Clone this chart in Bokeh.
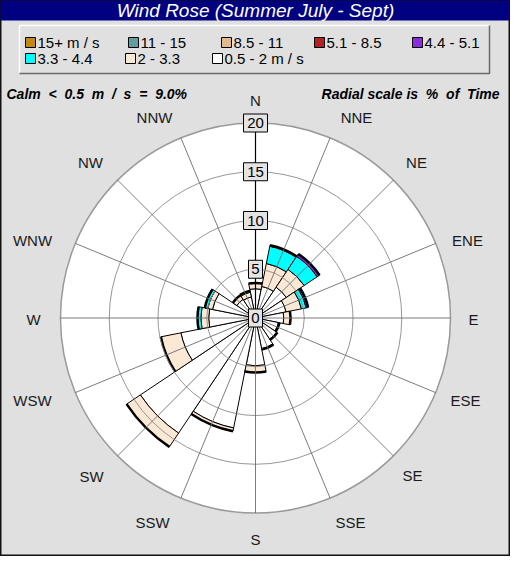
import math
from bokeh.plotting import figure
from bokeh.models import Range1d, ColumnDataSource
from bokeh.core.properties import value
from bokeh.embed import file_html
from bokeh.resources import INLINE

# ---------------- data ----------------
directions = ["N", "NNE", "NE", "ENE", "E", "ESE", "SE", "SSE",
              "S", "SSW", "SW", "WSW", "W", "WNW", "NW", "NNW"]
bearings = [0.0, 22.5, 45.0, 67.5, 90.0, 112.5, 135.0, 157.5,
            180.0, 202.5, 225.0, 247.5, 270.0, 292.5, 315.0, 337.5]

# speed classes, listed as in the legend
class_labels = ["15+ m / s", "11 - 15", "8.5 - 11", "5.1 - 8.5",
                "4.4 - 5.1", "3.3 - 4.4", "2 - 3.3", "0.5 - 2 m / s"]
class_colors = ["#c08a10", "#5f9ea0", "#e2b98a", "#b22222",
                "#8a2be2", "#00ffff", "#fbe9d5", "#ffffff"]

# % of time per direction for each class (N .. NNW)
spd_05_2 = [3.0, 3.3, 3.8, 3.2, 2.9, 2.4, 2.6, 3.2, 4.9, 11.5, 14.2, 7.8, 4.8, 4.5, 2.3, 2.2]
spd_2_33 = [0.6, 2.4, 2.2, 1.6, 0.7, 0.1, 0.1, 0.1, 0.7, 0.35, 1.7, 2.1, 0.8, 0.5, 0.5, 0.5]
spd_33_44 = [0.0, 1.8, 1.6, 0.5, 0.0, 0.0, 0.0, 0.0, 0.0, 0.0, 0.0, 0.0, 0.35, 0.3, 0.0, 0.15]
spd_44_51 = [0.0, 0.1, 0.3, 0.2, 0.0, 0.0, 0.0, 0.0, 0.0, 0.0, 0.0, 0.0, 0.0, 0.0, 0.0, 0.0]
spd_51_85 = [0.0] * 16
spd_85_11 = [0.0] * 16
spd_11_15 = [0.0] * 16
spd_15p = [0.0] * 16

# stacking order from centre outwards
stack = [spd_05_2, spd_2_33, spd_33_44, spd_44_51, spd_51_85, spd_85_11, spd_11_15, spd_15p]
stack_colors = ["#ffffff", "#fbe9d5", "#00ffff", "#8a2be2", "#b22222", "#e2b98a", "#5f9ea0", "#c08a10"]

radial_ticks = [0, 5, 10, 15, 20]
calm_text = "Calm\u00a0 <\u00a0 0.5\u00a0 m\u00a0 /\u00a0 s\u00a0 =\u00a0 9.0%"
scale_text = "Radial scale is\u00a0 %\u00a0 of\u00a0 Time"
title_text = "Wind Rose (Summer July - Sept)"

# ---------------- layout ----------------
W, H = 510, 556
scale = 9.75            # px per % of time
fx, fy = 255.0, 317.5   # rose centre in figure pixels

def X(px):
    return (px - 8 - fx) / scale

def Y(py):
    return (fy - (py - 8)) / scale

p = figure(width=W, height=H, output_backend="svg", toolbar_location=None,
           x_range=Range1d(-fx / scale, (W - fx) / scale),
           y_range=Range1d(-(H - fy) / scale, fy / scale),
           x_axis_location=None, y_axis_location=None, min_border=0)
p.grid.visible = False
p.background_fill_color = "#e0e0e0"
p.border_fill_color = "#e0e0e0"
p.outline_line_color = "#111111"
p.outline_line_width = 2

FONT = value("Liberation Sans")

# title bar
p.quad(left=X(7), right=X(519), top=Y(7), bottom=Y(28), fill_color="#000080", line_color=None)
p.text(x=[X(263)], y=[Y(18)], text=[title_text], text_color="white", text_font=FONT,
       text_font_size="19px", text_font_style="italic", text_align="center", text_baseline="middle")

# legend box
p.quad(left=X(27), right=X(497), top=Y(33), bottom=Y(81), fill_color="#e0e0e0", line_color=None)
p.line(x=[X(27), X(27), X(497)], y=[Y(81), Y(33), Y(33)], line_color="#ffffff", line_width=1.5)
p.line(x=[X(27), X(497), X(497)], y=[Y(81), Y(81), Y(33)], line_color="#6a6a6a", line_width=1.5)

leg_x = [38, 141, 234, 327, 425, 38, 138, 225]
leg_y = [50, 50, 50, 50, 50, 66, 66, 66]
p.scatter(x=[X(v) for v in leg_x], y=[Y(v) for v in leg_y], marker="square", size=10,
          fill_color=class_colors, line_color="#000000", line_width=1)
p.text(x=[X(v + 7) for v in leg_x], y=[Y(v) for v in leg_y], text=class_labels,
       text_font=FONT, text_font_size="15px", text_color="#000000",
       text_align="left", text_baseline="middle")

# side notes
p.text(x=[X(14)], y=[Y(101)], text=[calm_text], text_font=FONT, text_font_size="14px",
       text_font_style="bold italic", text_color="#000000", text_align="left", text_baseline="middle")
p.text(x=[X(507)], y=[Y(101)], text=[scale_text], text_font=FONT,
       text_font_size="14px", text_font_style="bold italic", text_color="#000000",
       text_align="right", text_baseline="middle")

# polar disc
rmax = radial_ticks[-1]
p.circle(x=[0], y=[0], radius=rmax, fill_color="white", line_color=None)

# bars
half = 11.25
cum = [0.0] * 16
for vals, col in zip(stack, stack_colors):
    inner, outer, sa, ea = [], [], [], []
    for i, v in enumerate(vals):
        if v > 0:
            inner.append(cum[i])
            outer.append(cum[i] + v)
            a = 90.0 - bearings[i]
            sa.append(math.radians(a - half))
            ea.append(math.radians(a + half))
            cum[i] += v
    if inner:
        src = ColumnDataSource(dict(ir=inner, orr=outer, sa=sa, ea=ea))
        p.annular_wedge(x=0, y=0, inner_radius="ir", outer_radius="orr",
                        start_angle="sa", end_angle="ea", source=src,
                        fill_color=col, line_color="#000000", line_width=1)

# thick outer edge of each bar
arc_r = [c for c in cum if c > 0]
arc_sa = [math.radians(90.0 - b - half) for b, c in zip(bearings, cum) if c > 0]
arc_ea = [math.radians(90.0 - b + half) for b, c in zip(bearings, cum) if c > 0]
p.arc(x=0, y=0, radius=arc_r, start_angle=arc_sa, end_angle=arc_ea,
      line_color="#000000", line_width=2.5)

# grid (drawn over bars, as in the original)
p.circle(x=[0] * 3, y=[0] * 3, radius=radial_ticks[1:-1], fill_color=None,
         line_color="#8c8c8c", line_width=1, line_alpha=0.9)
p.circle(x=[0], y=[0], radius=rmax, fill_color=None, line_color="#9a9a9a", line_width=1.5)
sp_x = [rmax * math.sin(math.radians(b)) for b in bearings]
sp_y = [rmax * math.cos(math.radians(b)) for b in bearings]
p.segment(x0=[0] * 16, y0=[0] * 16, x1=sp_x, y1=sp_y, line_color="#6e6e6e", line_width=1, line_alpha=0.9)
p.segment(x0=[0], y0=[0], x1=[0], y1=[rmax], line_color="#000000", line_width=1.2)

# radial labels on N axis
tick_w = [14 if t < 10 else 24 for t in radial_ticks]
p.rect(x=[0] * len(radial_ticks), y=radial_ticks, width=tick_w, height=[18] * len(radial_ticks),
       width_units="screen", height_units="screen", fill_color="#e4e4e4", line_color="#000000", line_width=1)
p.text(x=[0] * len(radial_ticks), y=radial_ticks, text=[str(t) for t in radial_ticks],
       text_font=FONT, text_font_size="15px", text_color="#000000",
       text_align="center", text_baseline="middle")

# compass labels (page-pixel anchor positions of each label)
lab_px = [263, 364, 424, 475, 481, 473, 420, 358, 263, 160, 99, 40, 41, 40, 98, 162]
lab_py = [108, 125, 170, 248, 327, 408, 483, 530, 547, 530, 484, 408, 327, 248, 170, 125]
p.text(x=[X(v) for v in lab_px], y=[Y(v) for v in lab_py], text=directions, text_font=FONT,
       text_font_size="15px", text_color="#1a1a1a", text_align="center", text_baseline="middle")

open("out.html", "w").write(file_html(p, INLINE))
